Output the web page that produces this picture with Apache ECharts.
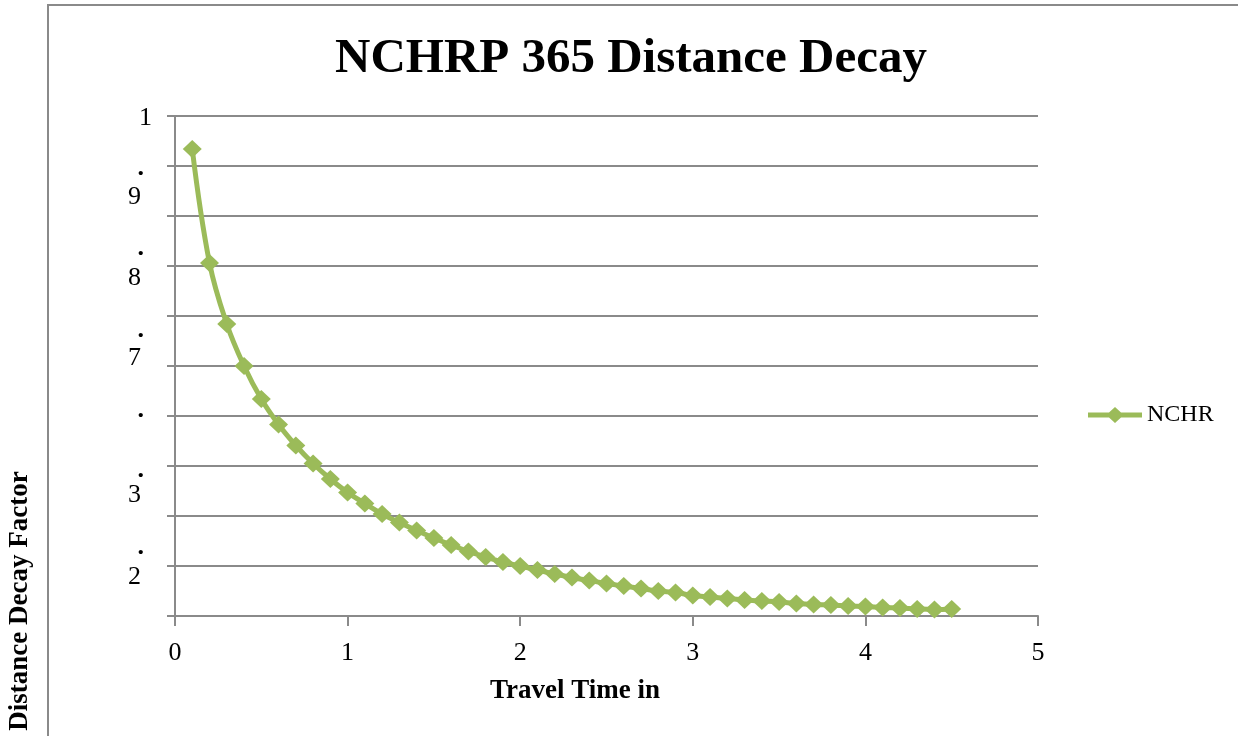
<!DOCTYPE html>
<html>
<head>
<meta charset="utf-8">
<script src="https://cdn.jsdelivr.net/npm/echarts@6/dist/echarts.min.js"></script>
<style>
html,body{margin:0;padding:0;background:#fff;}
#chart{width:1238px;height:736px;}
</style>
</head>
<body>
<div id="chart"></div>
<script>
const xValues = [0.1,0.2,0.3,0.4,0.5,0.6,0.7,0.8,0.9,1.0,1.1,1.2,1.3,1.4,1.5,1.6,1.7,1.8,1.9,2.0,2.1,2.2,2.3,2.4,2.5,2.6,2.7,2.8,2.9,3.0,3.1,3.2,3.3,3.4,3.5,3.6,3.7,3.8,3.9,4.0,4.1,4.2,4.3,4.4,4.5];
const decayValues = [0.934,0.706,0.584,0.500,0.434,0.383,0.341,0.305,0.274,0.247,0.225,0.204,0.187,0.171,0.156,0.142,0.129,0.118,0.108,0.100,0.092,0.084,0.077,0.071,0.065,0.060,0.055,0.050,0.047,0.041,0.038,0.035,0.032,0.030,0.028,0.025,0.023,0.022,0.020,0.019,0.017,0.016,0.014,0.013,0.014];
const seriesName = 'NCHR';
const xTickLabels = ['0','1','2','3','4','5'];
const yLabelText = ['1','.','9','.','8','.','7','.','.','3','.','2'];
const yLabelPos = [0.996,0.896,0.838,0.736,0.676,0.572,0.516,0.412,0.292,0.242,0.138,0.078];

const serif = '"Liberation Serif", "Times New Roman", serif';
const gray = '#8a8a8a';
const green = '#9bbb59';

const chart = echarts.init(document.getElementById('chart'), null, {renderer: 'canvas'});
const richBase = {fontFamily: serif, fontSize: 26, color: '#000'};
chart.setOption({
  animation: false,
  backgroundColor: '#fff',
  title: {
    text: 'NCHRP 365 Distance Decay',
    left: 330, top: 30,
    textStyle: {fontFamily: serif, fontWeight: 'bold', fontSize: 49, color: '#000'}
  },
  legend: {
    left: 1088, top: 403, padding: 0,
    itemWidth: 54, itemHeight: 18, itemGap: 5,
    textStyle: {fontFamily: serif, fontSize: 24, color: '#000', padding: [0,0,0,0]},
    data: [{name: seriesName, icon: 'path://M0,6.5 L21,6.5 L27,1 L33,6.5 L54,6.5 L54,11.5 L33,11.5 L27,17 L21,11.5 L0,11.5 Z'}]
  },
  grid: {left: 175, right: 200, top: 116, bottom: 120, containLabel: false},
  xAxis: {
    type: 'value', min: 0, max: 5, interval: 1,
    axisLine: {show: true, lineStyle: {color: gray, width: 2}},
    axisTick: {show: true, length: 10, lineStyle: {color: gray, width: 2}},
    splitLine: {show: false},
    axisLabel: {
      margin: 24, fontFamily: serif, fontSize: 26, color: '#000',
      formatter: (v) => xTickLabels[Math.round(v)]
    }
  },
  yAxis: [{
    type: 'value', min: 0, max: 1, interval: 0.1,
    axisLine: {show: true, onZero: false, lineStyle: {color: gray, width: 2}},
    axisTick: {show: true, length: 8, lineStyle: {color: gray, width: 2}},
    splitLine: {show: true, lineStyle: {color: gray, width: 2}},
    axisLabel: {show: false}
  }, {
    type: 'value', min: 0, max: 1, position: 'left',
    axisLine: {show: false}, axisTick: {show: false}, splitLine: {show: false},
    axisLabel: {
      show: true, customValues: yLabelPos, align: 'right', margin: 23,
      formatter: (v) => {
        let best = 0;
        for (let i = 0; i < yLabelPos.length; i++) {
          if (Math.abs(yLabelPos[i] - v) < Math.abs(yLabelPos[best] - v)) best = i;
        }
        const t = yLabelText[best];
        if (t === '.') return '{dot|.}';
        if (t === '1') return '{one|1}';
        return '{dig|' + t + '}';
      },
      rich: {
        dot: Object.assign({padding: [0, 8, 0, 0], fontWeight: 'bold'}, richBase),
        dig: Object.assign({padding: [0, 11, 0, 0]}, richBase),
        one: Object.assign({}, richBase)
      }
    }
  }],
  graphic: [
    {type: 'line', shape: {x1: 48, y1: 5, x2: 1238, y2: 5}, style: {stroke: gray, lineWidth: 2}},
    {type: 'line', shape: {x1: 48, y1: 4, x2: 48, y2: 736}, style: {stroke: gray, lineWidth: 2}},
    {type: 'text', x: 20, y: 601, rotation: Math.PI / 2,
     style: {text: 'Distance Decay Factor', fontFamily: serif, fontWeight: 'bold', fontSize: 27, fill: '#000', align: 'center', verticalAlign: 'middle'}},
    {type: 'text', x: 575, y: 691,
     style: {text: 'Travel Time in', fontFamily: serif, fontWeight: 'bold', fontSize: 27, fill: '#000', align: 'center', verticalAlign: 'middle'}}
  ],
  series: [{
    name: seriesName, type: 'line', yAxisIndex: 0,
    data: xValues.map((x, i) => [x, decayValues[i]]),
    smooth: 0.4,
    symbol: 'diamond', symbolSize: [19, 18],
    lineStyle: {color: green, width: 5},
    itemStyle: {color: green},
    clip: false
  }]
});
</script>
</body>
</html>
